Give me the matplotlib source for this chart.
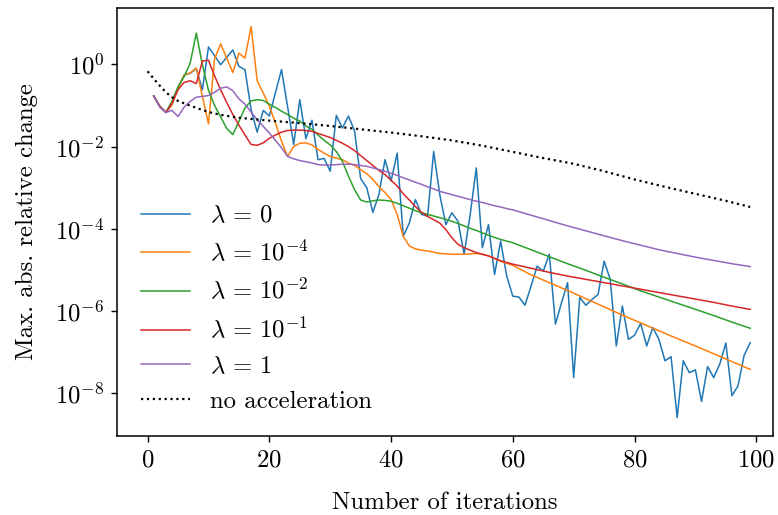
import numpy as np
import matplotlib
matplotlib.use("Agg")
import matplotlib.pyplot as plt
from matplotlib.ticker import FixedLocator, NullLocator

plt.rcParams['font.family'] = 'serif'
plt.rcParams['font.serif'] = ['cmr10', 'DejaVu Serif']
plt.rcParams['mathtext.fontset'] = 'cm'
plt.rcParams['axes.formatter.use_mathtext'] = True
plt.rcParams['font.size'] = 17.8

# log10 of the max. abs. relative change per iteration
it_plain = np.arange(1, 100)
log_plain = [
    -0.77, -1.02, -1.17, -0.98, -0.58, -0.26, -0.22, -0.10, -0.62, 0.42,
    0.21, -0.01, 0.17, 0.35, -0.05, -0.13, -1.10, -1.65, -1.12, -1.26,
    -0.69, -0.13, -1.03, -1.95, -0.86, -1.81, -1.36, -2.32, -2.29, -2.60,
    -1.24, -1.55, -1.26, -1.62, -2.78, -3.00, -3.60, -3.17, -2.32, -2.84,
    -2.16, -4.18, -3.86, -3.29, -3.65, -3.69, -2.12, -3.17, -3.90, -3.61,
    -3.82, -4.62, -3.65, -2.52, -4.46, -3.90, -5.11, -4.30, -5.15, -5.64,
    -5.66, -5.86, -5.39, -4.91, -5.03, -4.62, -6.32, -5.80, -5.31, -7.62,
    -5.67, -5.86, -5.72, -5.60, -4.79, -5.23, -6.85, -5.88, -6.69, -6.59,
    -6.30, -6.85, -6.40, -6.69, -7.21, -7.11, -8.59, -7.21, -7.50, -7.43,
    -8.20, -7.35, -7.62, -7.29, -6.78, -8.06, -7.82, -7.08, -6.77,
]

it_acc = list(range(1, 61)) + list(range(63, 100, 3))
log_1em4 = [
    -0.77, -1.02, -1.17, -0.98, -0.58, -0.26, -0.21, -0.09, -0.78, -1.45,
    0.13, 0.50, 0.15, -0.20, 0.27, 0.15, 0.92, -0.40, -0.70, -1.02,
    -1.43, -1.87, -2.24, -2.00, -1.92, -1.91, -1.96, -2.07, -2.16, -2.24,
    -2.28, -2.32, -2.40, -2.46, -2.56, -2.66, -2.80, -2.97, -3.12, -3.29,
    -3.65, -4.18, -4.42, -4.49, -4.52, -4.54, -4.57, -4.60, -4.61, -4.62,
    -4.62, -4.62, -4.61, -4.60, -4.62, -4.66, -4.72, -4.79, -4.84, -4.89,
    -5.12, -5.31, -5.50, -5.70, -5.90, -6.10, -6.29, -6.48, -6.67, -6.85,
    -7.04, -7.23, -7.42,
]
log_1em2 = [
    -0.77, -1.02, -1.17, -0.90, -0.54, -0.30, 0.03, 0.76, -0.01, -0.63,
    -1.00, -1.28, -1.56, -1.71, -1.39, -1.06, -0.89, -0.86, -0.88, -0.97,
    -1.05, -1.14, -1.22, -1.31, -1.38, -1.50, -1.58, -1.72, -1.85, -1.96,
    -2.12, -2.36, -2.72, -3.05, -3.30, -3.35, -3.32, -3.30, -3.31, -3.33,
    -3.38, -3.44, -3.50, -3.56, -3.61, -3.65, -3.69, -3.73, -3.77, -3.82,
    -3.87, -3.93, -3.99, -4.04, -4.10, -4.16, -4.21, -4.26, -4.30, -4.34,
    -4.51, -4.68, -4.85, -5.01, -5.18, -5.34, -5.51, -5.66, -5.81, -5.96,
    -6.11, -6.27, -6.42,
]
log_1em1 = [
    -0.77, -1.02, -1.17, -0.95, -0.62, -0.44, -0.40, -0.47, 0.08, 0.10,
    -0.28, -0.62, -0.93, -1.22, -1.48, -1.72, -1.95, -1.97, -1.91, -1.80,
    -1.72, -1.65, -1.61, -1.60, -1.60, -1.61, -1.63, -1.68, -1.73, -1.78,
    -1.85, -1.92, -2.00, -2.10, -2.22, -2.34, -2.46, -2.58, -2.68, -2.82,
    -2.96, -3.15, -3.30, -3.46, -3.60, -3.70, -3.78, -3.86, -4.02, -4.22,
    -4.38, -4.46, -4.52, -4.58, -4.62, -4.66, -4.72, -4.78, -4.82, -4.86,
    -4.96, -5.06, -5.15, -5.23, -5.31, -5.39, -5.47, -5.55, -5.63, -5.71,
    -5.79, -5.88, -5.96,
]
log_1 = [
    -0.77, -1.04, -1.17, -1.12, -1.27, -1.04, -0.90, -0.80, -0.78, -0.76,
    -0.68, -0.58, -0.55, -0.64, -0.84, -0.97, -1.16, -1.35, -1.51, -1.67,
    -1.85, -2.03, -2.24, -2.30, -2.34, -2.37, -2.40, -2.44, -2.45, -2.45,
    -2.44, -2.43, -2.43, -2.44, -2.46, -2.48, -2.52, -2.56, -2.60, -2.65,
    -2.70, -2.76, -2.81, -2.87, -2.92, -2.98, -3.03, -3.09, -3.13, -3.17,
    -3.21, -3.25, -3.29, -3.33, -3.36, -3.40, -3.44, -3.47, -3.51, -3.54,
    -3.67, -3.80, -3.93, -4.05, -4.17, -4.29, -4.40, -4.51, -4.60, -4.69,
    -4.77, -4.85, -4.92,
]

it_noacc = [0, 1, 2, 3, 4, 5, 6, 8, 10, 12, 15, 20, 25, 30, 35, 40, 45,
            50, 55, 60, 65, 70, 75, 80, 85, 90, 95, 99]
log_noacc = [-0.17, -0.35, -0.52, -0.68, -0.80, -0.89, -0.95, -1.06, -1.16,
             -1.23, -1.30, -1.37, -1.43, -1.50, -1.58, -1.66, -1.75, -1.85,
             -1.98, -2.13, -2.28, -2.42, -2.60, -2.80, -2.98, -3.15, -3.32,
             -3.47]

labels = [r'$\lambda\, =\, 0$', r'$\lambda\, =\, 10^{-4}$', r'$\lambda\, =\, 10^{-2}$',
          r'$\lambda\, =\, 10^{-1}$', r'$\lambda\, =\, 1$']

fig = plt.figure(figsize=(7.78, 5.15), dpi=100)
ax = fig.add_axes([0.151, 0.1534, 0.8426, 0.8311])

ax.plot(it_plain, 10.0 ** np.array(log_plain), lw=1.1, color='C0', label=labels[0])
for i, vals in enumerate([log_1em4, log_1em2, log_1em1, log_1]):
    ax.plot(it_acc, 10.0 ** np.array(vals), lw=1.1, color='C%d' % (i + 1),
            label=labels[i + 1])
ax.plot(it_noacc, 10.0 ** np.array(log_noacc), ':', lw=1.6, color='k',
        label='no acceleration')

ax.set_yscale('log')
ax.set_xlim(-4.95, 102.75)
ax.set_ylim(10 ** -9.04, 10 ** 1.37)
ax.yaxis.set_major_locator(FixedLocator([1e0, 1e-2, 1e-4, 1e-6, 1e-8]))
ax.yaxis.set_minor_locator(NullLocator())
ax.set_xticks([0, 20, 40, 60, 80, 100])
ax.tick_params(length=4.5, width=1.0, pad=5)
for s in ax.spines.values():
    s.set_linewidth(1.1)

ax.set_xlabel('Number of iterations', labelpad=15)
ax.set_ylabel('Max. abs. relative change', labelpad=12)
ax.legend(loc='lower left', frameon=False, handlelength=2.0,
          handletextpad=0.8, labelspacing=0.5, borderaxespad=0.55)

fig.savefig('out.png', dpi=100)
